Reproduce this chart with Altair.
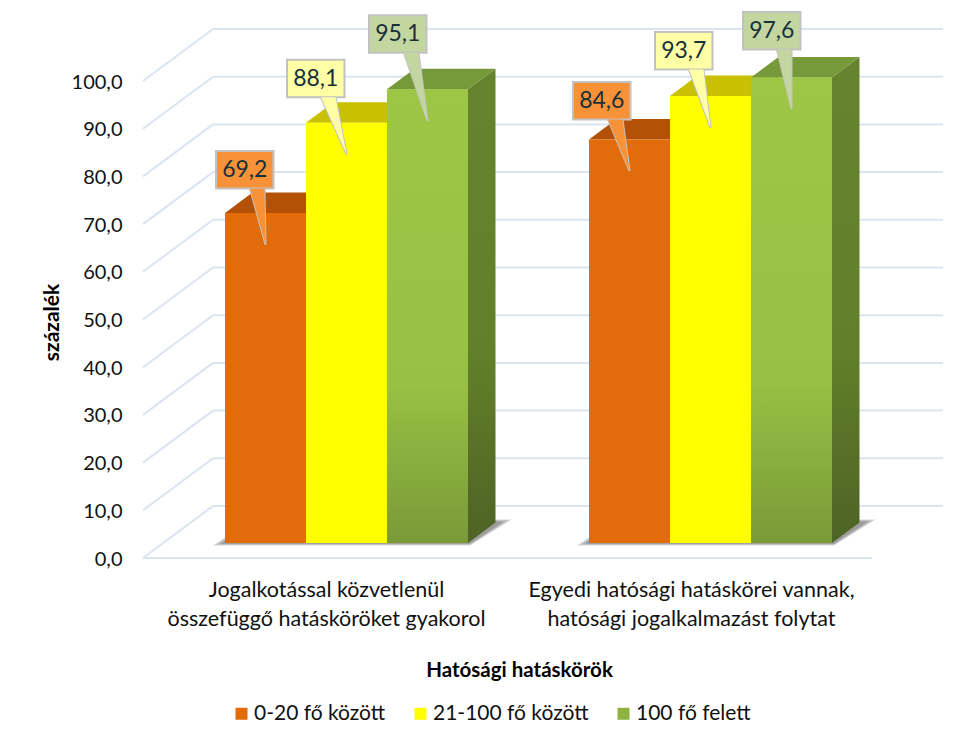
import altair as alt
import pandas as pd

categories = ["Jogalkotással közvetlenül|összefüggő hatásköröket gyakorol",
              "Egyedi hatósági hatáskörei vannak,|hatósági jogalkalmazást folytat"]
series = ["0-20 fő között", "21-100 fő között", "100 fő felett"]
values_g1 = [69.2, 88.1, 95.1]
values_g2 = [84.6, 93.7, 97.6]
y_ticks = [0, 10, 20, 30, 40, 50, 60, 70, 80, 90, 100]

front_colors = ["#E36C0A", "#FFFF00", "#8DB23F"]
top_colors = ["#B35207", "#C8C000", "#76993A"]
box_colors = ["#F79239", "#FFFFA6", "#C4D6A0"]

# ---- layout (page pixels turned into scale units) ----
LEFT, TOP, BOTTOM, RIGHT = 130, 8, 558, 970
PX_PER_UNIT = 4.77
W, H = RIGHT - LEFT, BOTTOM - TOP
X = lambda px: px - LEFT
BAR_W = 81.0
GROUP_LEFT = [225.0, 589.0]
BAR_BASE = (BOTTOM - 543) / PX_PER_UNIT
DX, DY = 27.5, 20.5 / PX_PER_UNIT
WALL_DX, WALL_DY = 70, 52 / PX_PER_UNIT
FLOOR_L, FLOOR_R, WALL_R = 143, 872, 943
# callout box left/top relative to bar centre/top, in px
BOX_W, BOX_H, TAIL_W, TIP = 57.5, 37.5, 14.5, 31.5
box_dx = [[-49.5, -59.5, -58.5], [-56.5, -55.5, -48.5]]
box_dy = [[-62, -63, -74], [-57.5, -64, -65.5]]
tail_dx = [[-15.5, -25.5, -23.5], [-21.5, -21.5, -14.5]]

fronts, sides, tops, boxes, tails, shadows = [], [], [], [], [], []
for g, vals in enumerate([values_g1, values_g2]):
    for s, v in enumerate(vals):
        x0 = GROUP_LEFT[g] + s * BAR_W
        x1 = x0 + BAR_W
        top = v + BAR_BASE
        id_ = f"{g}-{s}"
        row = dict(id=id_, g=g, series=series[s], s=s)
        fronts.append(dict(row, x=X(x0), x2=X(x1), y=BAR_BASE, y2=top))
        sides += [dict(row, x=X(x1), y=BAR_BASE, y2=top),
                  dict(row, x=X(x1 + DX), y=BAR_BASE + DY, y2=top + DY)]
        tops += [dict(row, y=top, x=X(x0), x2=X(x1)),
                 dict(row, y=top + DY, x=X(x0 + DX), x2=X(x1 + DX))]
        cx = (x0 + x1) / 2
        bl = cx + box_dx[g][s]
        bt = top - box_dy[g][s] / PX_PER_UNIT
        boxes.append(dict(row, x=X(bl), x2=X(bl + BOX_W), y=bt, y2=bt - BOX_H / PX_PER_UNIT,
                          tx=X(bl + BOX_W / 2), ty=bt - BOX_H / 2 / PX_PER_UNIT,
                          label=f"{v:.1f}".replace(".", ","), fill=box_colors[s]))
        tb = cx + tail_dx[g][s]
        tails += [dict(row, y=bt - BOX_H / PX_PER_UNIT, x=X(tb), x2=X(tb + TAIL_W), fill=box_colors[s]),
                  dict(row, y=top - TIP / PX_PER_UNIT, x=X(cx), x2=X(cx), fill=box_colors[s])]
    gl = GROUP_LEFT[g]
    gr = gl + 3 * BAR_W
    for lvl, (a, b, c) in enumerate([(12, 3, 2.5), (8, 2, 1.5), (4, 1, 0.8)]):
        k = f"{g}-{lvl}"
        shadows += [dict(id=k, y=BAR_BASE - c / PX_PER_UNIT, x=X(gl - a), x2=X(gr + 2)),
                    dict(id=k, y=BAR_BASE + (DY + b / PX_PER_UNIT), x=X(gl + DX), x2=X(gr + DX + a + 4))]

grid = []
for t in y_ticks:
    back = t + WALL_DY
    grid += [dict(id=f"a{t}", x=X(FLOOR_L), y=t), dict(id=f"a{t}", x=X(FLOOR_L + WALL_DX), y=back),
             dict(id=f"b{t}", x=X(FLOOR_L + WALL_DX), y=back), dict(id=f"b{t}", x=X(WALL_R), y=back)]
grid += [dict(id="floor", x=X(FLOOR_L), y=0), dict(id="floor", x=X(FLOOR_R), y=0)]

FONT = "Lato"
x_scale = alt.Scale(domain=[0, W], range=[0, W], nice=False, zero=False)
y_scale = alt.Scale(domain=[0, H / PX_PER_UNIT], range=[H, 0], nice=False, zero=False)
x_axis = alt.Axis(
    values=[X(326), X(691)], title="Hatósági hatáskörök", grid=False, ticks=False, domain=False,
    labelExpr=f"datum.value < 300 ? {categories[0].split('|')!r} : {categories[1].split('|')!r}",
    labelFont=FONT, labelFontSize=21.5, labelColor="#111111", labelPadding=21, labelLineHeight=29,
    labelOverlap=False, labelFlush=False, labelBound=False, labelAngle=0, labelBaseline="top",
    labelLimit=500,
    titleFont=FONT, titleFontSize=20.5, titleFontWeight="bold", titleColor="#000000",
    titleX=X(519), titleY=112, titleAnchor="middle", titleAlign="center", titleBaseline="middle")
y_axis = alt.Axis(
    values=y_ticks, title="százalék", grid=False, ticks=False, domain=False,
    labelExpr="replace(format(datum.value, '.1f'), '.', ',')",
    labelFont=FONT, labelFontSize=20, labelColor="#111111", labelPadding=8, labelOffset=1,
    titleFont=FONT, titleFontSize=21, titleFontWeight="bold", titleColor="#000000",
    titleX=52 - LEFT, titleY=322 - TOP, titleAlign="center", titleBaseline="middle", titleAngle=-90)
qx = lambda f="x": alt.X(f"{f}:Q", scale=x_scale, axis=x_axis)
qy = lambda f="y": alt.Y(f"{f}:Q", scale=y_scale, axis=y_axis)

grid_layer = alt.Chart(pd.DataFrame(grid)).mark_line(color="#DCE4F1", strokeWidth=2).encode(
    x=qx(), y=qy(), detail="id:N")

shadow_layer = alt.Chart(pd.DataFrame(shadows)).mark_area(
    orient="horizontal", color="#555555", opacity=0.25).encode(
    y=qy(), x=qx(), x2="x2:Q", detail="id:N")

side_layer = alt.Chart(pd.DataFrame(sides)).mark_area(
    color=alt.Gradient(gradient="linear", x1=0, x2=0, y1=0, y2=1,
                       stops=[alt.GradientStop(color="#66842E", offset=0),
                              alt.GradientStop(color="#618029", offset=0.6),
                              alt.GradientStop(color="#4E6325", offset=1)])).encode(
    x=qx(), y=qy(), y2="y2:Q", detail="id:N")

top_layer = alt.Chart(pd.DataFrame(tops)).mark_area(orient="horizontal").encode(
    y=qy(), x=qx(), x2="x2:Q", detail="id:N",
    color=alt.Color("series:N", scale=alt.Scale(domain=series, range=top_colors), legend=None),
    order="s:Q")

front_layer = alt.Chart(pd.DataFrame(fronts)).mark_rect().encode(
    x=qx(), x2="x2:Q", y=qy(), y2="y2:Q",
    color=alt.Color("series:N", sort=series, scale=alt.Scale(domain=series, range=front_colors),
                    legend=alt.Legend(
                        title=None, orient="none", legendX=231 - LEFT, legendY=703 - TOP,
                        direction="horizontal", columns=3, symbolType="square", symbolSize=144,
                        symbolStrokeWidth=0, labelFont=FONT, labelFontSize=21, labelColor="#111111",
                        labelOffset=2, columnPadding=24, labelLimit=300)))

green_layer = alt.Chart(pd.DataFrame([f for f in fronts if f["s"] == 2])).mark_rect(
    color=alt.Gradient(gradient="linear", x1=0, x2=0, y1=0, y2=1,
                       stops=[alt.GradientStop(color="#9DC646", offset=0),
                              alt.GradientStop(color="#98C044", offset=0.65),
                              alt.GradientStop(color="#7A9A38", offset=1)])).encode(
    x=qx(), x2="x2:Q", y=qy(), y2="y2:Q")

tail_df = pd.DataFrame(tails)
tail_stroke = alt.Chart(tail_df).mark_area(orient="horizontal", stroke="#C2C2C2", strokeWidth=2).encode(
    y=qy(), x=qx(), x2="x2:Q", detail="id:N",
    fill=alt.Fill("fill:N", scale=None))
box_layer = alt.Chart(pd.DataFrame(boxes)).mark_rect(stroke="#C2C2C2", strokeWidth=2).encode(
    x=qx(), x2="x2:Q", y=qy(), y2="y2:Q", fill=alt.Fill("fill:N", scale=None))
tail_fill = alt.Chart(tail_df).mark_area(orient="horizontal").encode(
    y=qy(), x=qx(), x2="x2:Q", detail="id:N",
    fill=alt.Fill("fill:N", scale=None))
text_layer = alt.Chart(pd.DataFrame(boxes)).mark_text(
    font=FONT, fontSize=23, color="#17303A", align="center", baseline="middle").encode(
    x=qx("tx"), y=qy("ty"), text="label:N")

chart = alt.layer(grid_layer, shadow_layer, side_layer, top_layer, front_layer, green_layer,
                  tail_stroke, box_layer, tail_fill, text_layer).resolve_scale(color="independent").properties(
    width=W, height=H, padding={"left": LEFT - 8, "top": 0, "right": 0, "bottom": 175},
    autosize=alt.AutoSizeParams(type="none"),
    background="#FFFFFF",
).configure_view(stroke=None)

chart.save("out.html", embed_options={"renderer": "svg", "actions": False})
